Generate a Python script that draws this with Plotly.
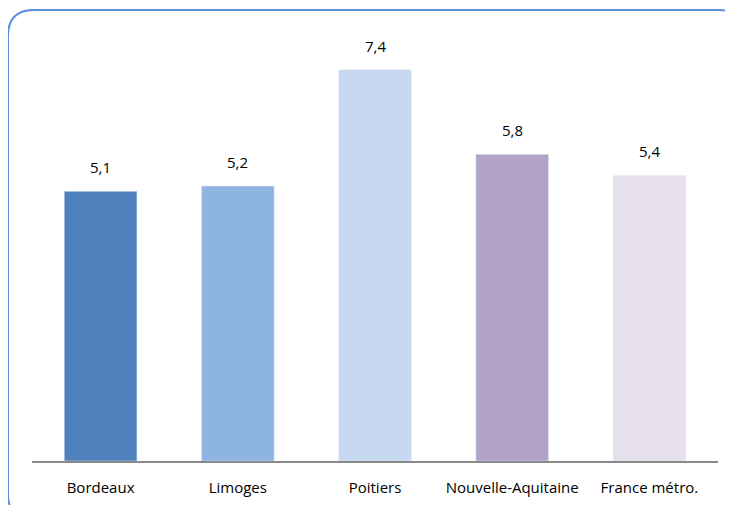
import plotly.graph_objects as go

categories = ["Bordeaux", "Limoges", "Poitiers", "Nouvelle-Aquitaine", "France métro."]
values = [5.1, 5.2, 7.4, 5.8, 5.4]
labels = ["5,1", "5,2", "7,4", "5,8", "5,4"]
colors = ["#4F81BD", "#8EB4E3", "#C6D9F1", "#B3A2C7", "#E6E0EC"]

OFF = 8  # page body margin offset
W, H = 733, 505
L, R, T, B = 32 - OFF, 15 + OFF, 38 - OFF, 44 + OFF
pw = W - L - R
ph = H - T - B
FONT = "Open Sans"

fig = go.Figure(go.Bar(
    x=categories, y=values, marker_color=colors, width=0.53,
    hoverinfo="skip",
))

for c, v, t in zip(categories, values, labels):
    fig.add_annotation(x=c, y=v, text=t, showarrow=False, yanchor="bottom",
                       yshift=12, font=dict(family=FONT, size=15, color="#000000"))

def px(x):
    return (x - OFF - L) / pw

def py(y):
    return (H - B - (y - OFF)) / ph

x0, x1, y0, y1, r = 8, 745, 10, 520, 26
path = (
    f"M {px(x0)},{py(y0 + r)} "
    f"Q {px(x0)},{py(y0)} {px(x0 + r)},{py(y0)} "
    f"L {px(x1 - r)},{py(y0)} "
    f"Q {px(x1)},{py(y0)} {px(x1)},{py(y0 + r)} "
    f"L {px(x1)},{py(y1 - r)} "
    f"Q {px(x1)},{py(y1)} {px(x1 - r)},{py(y1)} "
    f"L {px(x0 + r)},{py(y1)} "
    f"Q {px(x0)},{py(y1)} {px(x0)},{py(y1 - r)} Z"
)

fig.update_layout(
    width=W, height=H,
    margin=dict(l=L, r=R, t=T, b=B),
    paper_bgcolor="white", plot_bgcolor="white",
    showlegend=False,
    xaxis=dict(showline=True, linecolor="#898989", linewidth=2, ticks="",
               ticklabelstandoff=12,
               tickfont=dict(family=FONT, size=15, color="#000000"),
               fixedrange=True),
    yaxis=dict(range=[0, 8], visible=False, fixedrange=True),
    shapes=[dict(type="path", xref="paper", yref="paper", path=path,
                 line=dict(color="#5B8FD8", width=2), fillcolor="rgba(0,0,0,0)",
                 layer="below")],
)

fig.write_html("out.html")
